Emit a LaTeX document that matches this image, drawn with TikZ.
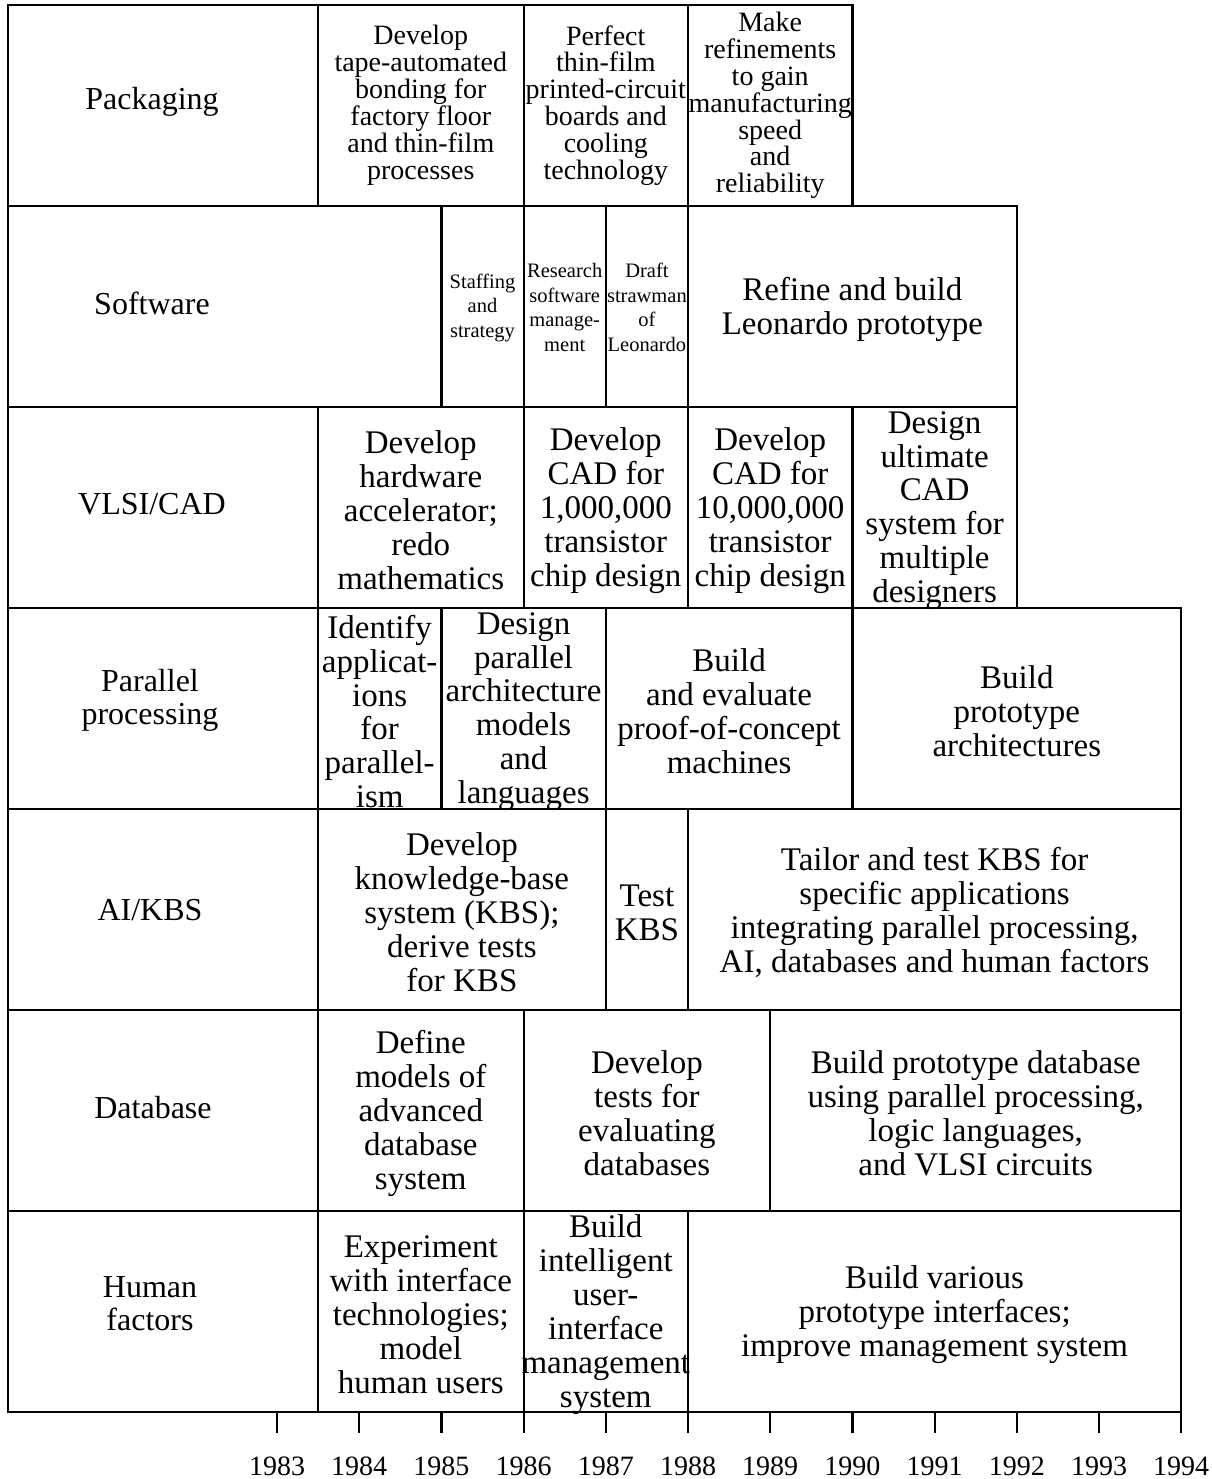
\documentclass[tikz,border=0pt]{standalone}
\usepackage{fontspec}
\setmainfont{Liberation Serif}
\usetikzlibrary{fit}
\tikzset{
  cell/.style={draw, line width=2.2pt, inner sep=0pt, outer sep=0pt},
  txt/.style={align=center, inner sep=0pt},
  tbig/.style={txt, font=\fontsize{33}{33.9}\selectfont, yshift=-3pt},
  tlab/.style={txt, font=\fontsize{32}{33}\selectfont},
  tpk/.style={txt, font=\fontsize{28}{26.9}\selectfont},
  tsm/.style={txt, font=\fontsize{20.5}{24.5}\selectfont, yshift=-1pt},
  tyr/.style={font=\fontsize{28}{28}\selectfont, inner sep=0pt},
  tick/.style={line width=2.2pt}
}
\begin{document}
\begin{tikzpicture}[x=1pt,y=-1pt]
\useasboundingbox (0,0) rectangle (1211,1479);
% ---------- Packaging
\node[cell, fit={(8,5) (318,206)}] (pkL) {};
\node[cell, fit={(318,5) (523.6,206)}] (pk1) {};
\node[cell, fit={(523.6,5) (688,206)}] (pk2) {};
\node[cell, fit={(688,5) (852.4,206)}] (pk3) {};
\node[tpk] (pk1t) at (pk1.center) {Develop\\tape-automated\\bonding for\\factory floor\\and thin-film\\processes};
\node[tpk] (pk2t) at (pk2.center) {Perfect\\thin-film\\printed-circuit\\boards and\\cooling\\technology};
\node[tpk] (pk3t) at (pk3.center) {Make\\refinements\\to gain\\manufacturing\\speed\\and\\reliability};
% ---------- Software
\node[cell, fit={(8,206) (441.4,407)}] (swL) {};
\node[cell, fit={(441.4,206) (523.6,407)}] (sw1) {};
\node[cell, fit={(523.6,206) (605.8,407)}] (sw2) {};
\node[cell, fit={(605.8,206) (688,407)}] (sw3) {};
\node[cell, fit={(688,206) (1016.8,407)}] (sw4) {};
\node[tsm] (sw1t) at (sw1.center) {Staffing\\and\\strategy};
\node[tsm] (sw2t) at (sw2.center) {Research\\software\\manage-\\ment};
\node[tsm] (sw3t) at (sw3.center) {Draft\\strawman\\of\\Leonardo};
\node[tbig] (sw4t) at (sw4.center) {Refine and build\\Leonardo prototype};
% ---------- VLSI/CAD
\node[cell, fit={(8,407) (318,608)}] (vlL) {};
\node[cell, fit={(318,407) (523.6,608)}] (vl1) {};
\node[cell, fit={(523.6,407) (688,608)}] (vl2) {};
\node[cell, fit={(688,407) (852.4,608)}] (vl3) {};
\node[cell, fit={(852.4,407) (1016.8,608)}] (vl4) {};
\node[tbig] (vl1t) at (vl1.center) {Develop\\hardware\\accelerator;\\redo\\mathematics};
\node[tbig] (vl2t) at (vl2.center) {Develop\\CAD for\\1,000,000\\transistor\\chip design};
\node[tbig] (vl3t) at (vl3.center) {Develop\\CAD for\\10,000,000\\transistor\\chip design};
\node[tbig] (vl4t) at (vl4.center) {Design\\ultimate\\CAD\\system for\\multiple\\designers};
% ---------- Parallel processing
\node[cell, fit={(8,608) (318,809)}] (paL) {};
\node[cell, fit={(318,608) (441.4,809)}] (pa1) {};
\node[cell, fit={(441.4,608) (605.8,809)}] (pa2) {};
\node[cell, fit={(605.8,608) (852.4,809)}] (pa3) {};
\node[cell, fit={(852.4,608) (1181.2,809)}] (pa4) {};
\node[tbig] (pa1t) at (pa1.center) {Identify\\applicat-\\ions\\for\\parallel-\\ism};
\node[tbig] (pa2t) at (pa2.center) {Design\\parallel\\architecture\\models\\and\\languages};
\node[tbig] (pa3t) at (pa3.center) {Build\\and evaluate\\proof-of-concept\\machines};
\node[tbig] (pa4t) at (pa4.center) {Build\\prototype\\architectures};
% ---------- AI/KBS
\node[cell, fit={(8,809) (318,1010)}] (aiL) {};
\node[cell, fit={(318,809) (605.8,1010)}] (ai1) {};
\node[cell, fit={(605.8,809) (688,1010)}] (ai2) {};
\node[cell, fit={(688,809) (1181.2,1010)}] (ai3) {};
\node[tbig] (ai1t) at (ai1.center) {Develop\\knowledge-base\\system (KBS);\\derive tests\\for KBS};
\node[tbig] (ai2t) at (ai2.center) {Test\\KBS};
\node[tbig] (ai3t) at (ai3.center) {Tailor and test KBS for\\specific applications\\integrating parallel processing,\\AI, databases and human factors};
% ---------- Database
\node[cell, fit={(8,1010) (318,1211)}] (dbL) {};
\node[cell, fit={(318,1010) (523.6,1211)}] (db1) {};
\node[cell, fit={(523.6,1010) (770.2,1211)}] (db2) {};
\node[cell, fit={(770.2,1010) (1181.2,1211)}] (db3) {};
\node[tbig] (db1t) at (db1.center) {Define\\models of\\advanced\\database\\system};
\node[tbig] (db2t) at (db2.center) {Develop\\tests for\\evaluating\\databases};
\node[tbig] (db3t) at (db3.center) {Build prototype database\\using parallel processing,\\logic languages,\\and VLSI circuits};
% ---------- Human factors
\node[cell, fit={(8,1211) (318,1412)}] (huL) {};
\node[cell, fit={(318,1211) (523.6,1412)}] (hu1) {};
\node[cell, fit={(523.6,1211) (688,1412)}] (hu2) {};
\node[cell, fit={(688,1211) (1181.2,1412)}] (hu3) {};
\node[tbig] (hu1t) at (hu1.center) {Experiment\\with interface\\technologies;\\model\\human users};
\node[tbig] (hu2t) at (hu2.center) {Build\\intelligent\\user-\\interface\\management\\system};
\node[tbig] (hu3t) at (hu3.center) {Build various\\prototype interfaces;\\improve management system};
% ---------- Row labels
\node[tlab] (lpk) at (152,102) {Packaging};
\node[tlab] (lsw) at (152,303) {Software};
\node[tlab] (lvl) at (152,504) {VLSI/CAD};
\node[tlab] (lpa) at (150,700) {Parallel\\processing};
\node[tlab] (lai) at (150,910) {AI/KBS};
\node[tlab] (ldb) at (153,1108) {Database};
\node[tlab] (lhu) at (150,1304) {Human\\factors};
% ---------- Time axis
\foreach \i in {0,...,11}{
  \pgfmathsetmacro\xx{277+82.2*\i}
  \pgfmathtruncatemacro\yy{1983+\i}
  \coordinate (t\i a) at (\xx,1412);
  \coordinate (t\i b) at (\xx,1433);
  \draw[tick] (t\i a) -- (t\i b);
  \node[tyr] (yr\i) at (\xx,1466) {\yy};
}
\end{tikzpicture}
\end{document}
